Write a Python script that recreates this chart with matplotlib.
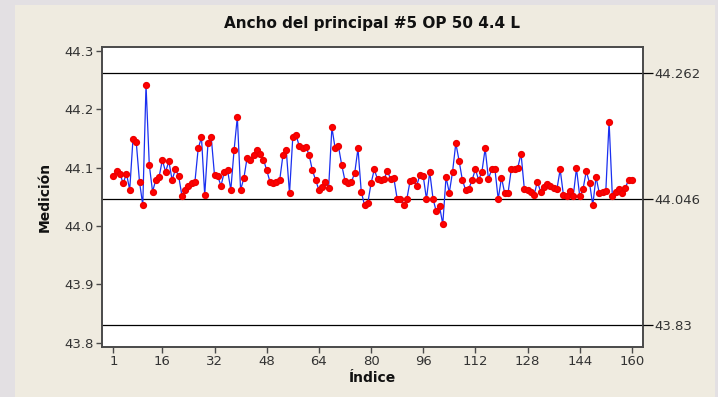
import matplotlib
matplotlib.use('Agg')
import matplotlib.pyplot as plt
from matplotlib.patches import Rectangle

# mediciones del ancho del principal #5, en orden de muestreo
medicion = [
    44.086, 44.094, 44.090, 44.073, 44.090, 44.062, 44.149, 44.144, 44.076, 44.036,
    44.242, 44.105, 44.059, 44.079, 44.084, 44.113, 44.093, 44.111, 44.079, 44.097,
    44.086, 44.052, 44.062, 44.068, 44.074, 44.076, 44.133, 44.152, 44.053, 44.142,
    44.152, 44.087, 44.085, 44.069, 44.093, 44.096, 44.062, 44.130, 44.187, 44.062,
    44.082, 44.117, 44.114, 44.122, 44.131, 44.124, 44.114, 44.096, 44.076, 44.073,
    44.075, 44.079, 44.122, 44.130, 44.056, 44.152, 44.156, 44.137, 44.133, 44.136,
    44.122, 44.096, 44.079, 44.062, 44.067, 44.076, 44.066, 44.169, 44.133, 44.137,
    44.105, 44.078, 44.074, 44.076, 44.091, 44.133, 44.059, 44.036, 44.039, 44.073,
    44.097, 44.080, 44.079, 44.080, 44.095, 44.080, 44.082, 44.047, 44.047, 44.036,
    44.047, 44.078, 44.079, 44.069, 44.088, 44.086, 44.046, 44.093, 44.047, 44.025,
    44.034, 44.003, 44.084, 44.057, 44.093, 44.142, 44.112, 44.079, 44.062, 44.064,
    44.079, 44.097, 44.079, 44.093, 44.133, 44.081, 44.097, 44.097, 44.046, 44.083,
    44.056, 44.056, 44.097, 44.097, 44.100, 44.124, 44.064, 44.062, 44.059, 44.053,
    44.076, 44.059, 44.067, 44.072, 44.068, 44.066, 44.063, 44.097, 44.053, 44.051,
    44.060, 44.051, 44.099, 44.051, 44.063, 44.094, 44.074, 44.036, 44.084, 44.056,
    44.059, 44.060, 44.179, 44.051, 44.059, 44.064, 44.056, 44.066, 44.079, 44.079,
]
indice = list(range(1, len(medicion) + 1))

# lineas de referencia (LSC, media, LIC)
ref_valores = [44.262, 44.046, 43.83]
ref_textos = ['44.262', '44.046', '43.83']

xticks = [1, 16, 32, 48, 64, 80, 96, 112, 128, 144, 160]
yticks = [43.8, 43.9, 44.0, 44.1, 44.2, 44.3]

gris_texto = '#333333'
marco = '#4a4a4a'

fig = plt.figure(figsize=(7.18, 3.97), dpi=100)
fig.patch.set_facecolor('#e3e0e3')
fig.patches.append(Rectangle((15 / 718, 0), 700 / 718, 392 / 397,
                             transform=fig.transFigure, facecolor='#efebe0',
                             edgecolor='none', zorder=-10))

ax = fig.add_axes([102 / 718, 50 / 397, 541 / 718, 300 / 397])
ax.set_facecolor('white')

for v in ref_valores:
    ax.axhline(v, color='black', linewidth=0.9, zorder=1)

ax.plot(indice, medicion, color='#1a2ff0', linewidth=0.9, zorder=2)
ax.plot(indice, medicion, linestyle='none', marker='o', markersize=4.2,
        markerfacecolor='#ff0000', markeredgecolor='#ee0000', zorder=3)

ax.set_xlim(-2.5, 163.4)
ax.set_ylim(43.7925, 44.307)
ax.set_xticks(xticks)
ax.set_yticks(yticks)
ax.set_yticklabels(['43.8', '43.9', '44.0', '44.1', '44.2', '44.3'])
ax.tick_params(direction='out', length=4, width=1, color=marco,
               labelsize=9.5, labelcolor=gris_texto, pad=2)
for s in ax.spines.values():
    s.set_color(marco)
    s.set_linewidth(1.4)

ax2 = ax.twinx()
ax2.set_ylim(ax.get_ylim())
ax2.set_yticks(ref_valores)
ax2.set_yticklabels(ref_textos)
ax2.tick_params(direction='out', length=7, width=0.9, color='black',
                labelsize=9.5, labelcolor=gris_texto, pad=1)
for s in ax2.spines.values():
    s.set_visible(False)

ax.set_title('Ancho del principal #5 OP 50 4.4 L', fontsize=11,
             fontweight='bold', color='#111111', pad=14)
ax.set_xlabel('Índice', fontsize=10, fontweight='bold', color='#111111', labelpad=2)
ax.set_ylabel('Medición', fontsize=10, fontweight='bold', color='#111111', labelpad=9)

fig.savefig('out.png', dpi=100, facecolor=fig.get_facecolor())
